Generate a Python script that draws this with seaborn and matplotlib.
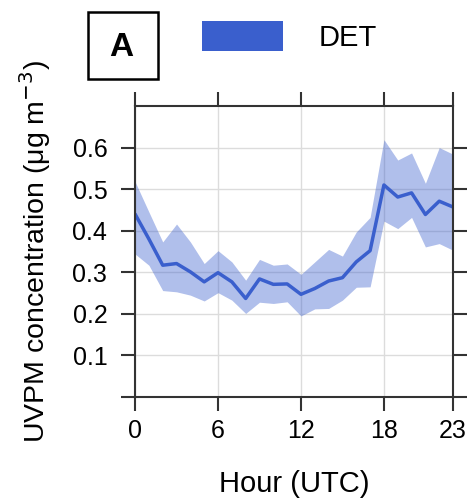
import numpy as np
import pandas as pd
import matplotlib
matplotlib.use('Agg')
import matplotlib.pyplot as plt
import seaborn as sns
from matplotlib.patches import Patch, Rectangle

# ========== data ==========
hours = list(range(24))
det_mean = [0.44, 0.38, 0.317, 0.321, 0.301, 0.277, 0.299, 0.277, 0.237, 0.284, 0.271, 0.272,
            0.247, 0.261, 0.279, 0.287, 0.325, 0.352, 0.510, 0.481, 0.491, 0.439, 0.471, 0.457]
det_upper = [0.518, 0.445, 0.373, 0.416, 0.373, 0.321, 0.352, 0.325, 0.281, 0.331, 0.317, 0.320,
             0.295, 0.325, 0.355, 0.339, 0.397, 0.432, 0.619, 0.570, 0.587, 0.514, 0.600, 0.584]
det_lower = [0.344, 0.317, 0.256, 0.253, 0.245, 0.231, 0.251, 0.233, 0.201, 0.228, 0.225, 0.229,
             0.195, 0.212, 0.213, 0.233, 0.264, 0.265, 0.423, 0.405, 0.432, 0.361, 0.369, 0.353]
x_ticks = [0, 6, 12, 18, 23]
y_ticks = [0.0, 0.1, 0.2, 0.3, 0.4, 0.5, 0.6]
y_ticklabels = ['', '0.1', '0.2', '0.3', '0.4', '0.5', '0.6']

df = pd.DataFrame({'hour': hours, 'mean': det_mean, 'upper': det_upper, 'lower': det_lower})

sns.set_style('white')
plt.rcParams['font.family'] = ['Liberation Sans', 'DejaVu Sans']
plt.rcParams['text.color'] = 'black'
plt.rcParams['axes.labelcolor'] = 'black'
plt.rcParams['xtick.color'] = 'black'
plt.rcParams['ytick.color'] = 'black'

line_color = '#3A5FCD'

fig = plt.figure(figsize=(4.69, 4.99), dpi=100)
ax = fig.add_axes([0.288, 0.2044, 0.678, 0.5832])

# 网格
for xv in x_ticks:
    ax.axvline(xv, color='#dcdcdc', lw=1, zorder=0)
for yv in y_ticks:
    ax.axhline(yv, color='#dcdcdc', lw=1, zorder=0)

ax.fill_between(df['hour'], df['lower'], df['upper'], color=line_color, alpha=0.4, lw=0, zorder=1)
sns.lineplot(data=df, x='hour', y='mean', color=line_color, lw=2.5, ax=ax, zorder=2)

ax.set_xlim(0, 23)
ax.set_ylim(0, 0.7)
ax.set_xticks(x_ticks)
ax.set_yticks(y_ticks)
ax.set_yticklabels(y_ticklabels)
ax.tick_params(axis='both', direction='out', length=10, width=1.5, labelsize=18,
               top=True, right=True, bottom=True, left=True,
               labeltop=False, labelright=False, color='#333333')
ax.tick_params(axis='x', pad=6)
ax.tick_params(axis='y', pad=10)
for sp in ax.spines.values():
    sp.set_linewidth(1.5)
    sp.set_color('#333333')

ax.set_xlabel('Hour (UTC)', fontsize=21, labelpad=19)
ax.set_ylabel('UVPM concentration (μg m$^{-3}$)', fontsize=20.5, labelpad=14)

# 图例
fig.legend(handles=[Patch(facecolor=line_color, edgecolor='none', label='DET')],
           loc='center left', bbox_to_anchor=(0.374, 0.927), frameon=False,
           fontsize=21, handlelength=2.8, handleheight=1.2, handletextpad=1.2)

# A 标签框
fig.patches.append(Rectangle((88 / 469, 1 - 79 / 499), 70 / 469, 67 / 499,
                             transform=fig.transFigure, fill=False, edgecolor='black', lw=1.8))
fig.text(121 / 469, 1 - 47 / 499, 'A', fontsize=24, fontweight='bold', ha='center', va='center')

fig.savefig('out.png', dpi=100)
plt.close()
